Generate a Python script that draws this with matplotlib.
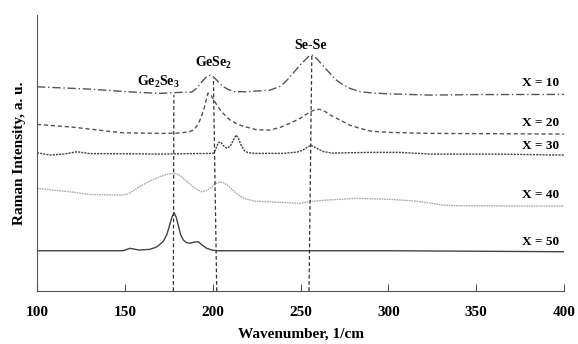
import matplotlib
matplotlib.use("Agg")
import matplotlib.pyplot as plt

plt.rcParams["mathtext.fontset"] = "custom"
plt.rcParams["mathtext.rm"] = "Liberation Serif:bold"
plt.rcParams["mathtext.it"] = "Liberation Serif:bold"
plt.rcParams["mathtext.bf"] = "Liberation Serif:bold"
plt.rcParams["mathtext.default"] = "rm"

# ---- data (intensity in arbitrary units) ----
x10 = [100, 130, 150, 170, 181, 188, 191, 193.8, 196, 198.5, 200, 202, 204, 206.1, 209, 212, 219,
       232.6, 238, 241, 244, 247, 250, 252.5, 254.5, 256.4, 258, 260, 262, 264.5, 266.8, 270,
       274, 278.2, 283.9, 292, 300, 323.7, 350, 400]
y10 = [204.3, 202, 199.5, 197.7, 198.7, 199, 203, 209.3, 213.5, 216, 215, 211.5, 207.5, 204.3, 201.5, 199.5, 199.3,
       201, 204.5, 208.5, 214.3, 220.5, 226.5, 231, 234.5, 236, 234.5, 231, 227, 222, 217.7, 211.5,
       206.5, 202.7, 199.3, 198, 197.3, 196, 196.5, 196.7]

x20 = [100, 120, 140, 149, 171.7, 180, 186, 189, 191, 193, 195, 197.3, 199, 201, 203, 205, 207.5,
       210, 214, 218, 225, 232.6, 238, 244, 250, 255.4, 258.5, 261.1, 264, 267, 272.5, 278,
       283.9, 290, 300, 323.7, 400]
y20 = [166.7, 164, 160, 158.3, 157.7, 158, 159, 161, 165, 172, 182, 198, 196, 190, 184.5, 179.5, 175,
       171, 167, 164.5, 161.3, 161, 163.5, 167.7, 173, 179.3, 181.5, 181.7, 179.5, 176, 171, 166,
       162.7, 160, 158.7, 157.7, 157]

x30 = [100, 107.4, 115, 122.8, 130, 150, 170, 190, 200.2, 201.5, 203.2, 204.6, 206, 208, 210, 211.5,
       213.3, 214.6, 216, 218, 220, 224, 240, 248, 251.4, 254, 256, 258, 260, 263, 268, 289.6,
       306.6, 323.7, 360, 400]
y30 = [138.3, 136, 137, 139.3, 137.5, 137.3, 137, 137.5, 137.7, 141, 148.5, 149, 145.5, 142.7, 145, 150,
       156, 153, 146.5, 140.5, 138.5, 137.7, 137.7, 139, 141, 144, 146, 144, 142, 139.5, 138, 138.7,
       138.7, 137, 137, 136]

x40 = [100, 120, 130, 149, 152, 155, 158, 162, 166, 170, 174, 177.6, 180, 182.5, 185, 188, 191,
       193.8, 196.5, 199.5, 202, 204.2, 206.5, 209, 212, 215, 219, 224, 235, 249.7, 255, 265,
       282, 301, 315, 323.7, 330, 340, 400]
y40 = [102.7, 99, 96.5, 96, 97.3, 100.5, 104, 108, 111.5, 114.5, 116.7, 117.7, 117, 114, 110, 105.5, 101.5,
       99.3, 100.5, 104, 107.5, 109.3, 108, 105, 100, 95.5, 92, 90, 89, 87.7, 89.5, 91,
       92.7, 91.7, 90, 88, 86, 85.3, 85]

x50 = [100, 149, 152.9, 158, 164.3, 168, 170.5, 172, 174, 175.5, 176.8, 178, 179.2, 180.5, 181.8,
       183.3, 185, 187.1, 189.5, 191.8, 194, 196.6, 199.5, 202.3, 220, 300, 400]
y50 = [40.3, 40.3, 42.7, 41, 41.7, 44, 47.5, 50, 57, 66, 74, 78.3, 74, 65, 56,
       51, 48.5, 47.7, 49, 49.3, 46, 42.7, 41, 40.3, 40.3, 40.3, 39.3]

series_labels = ["X = 10", "X = 20", "X = 30", "X = 40", "X = 50"]
label_y = [207.7, 168.3, 145, 96, 49.3]

peak_names = ["Ge$_2$Se$_3$", "GeSe$_2$", "Se-Se"]
peak_x_bottom = [177.6, 202.3, 254.8]
peak_x_top = [177.9, 200.4, 256.4]
peak_line_top = [196, 213, 236]
peak_text_x = [169.3, 200.5, 255.7]
peak_text_y = [209, 227.7, 246]

xticks = [100, 150, 200, 250, 300, 350, 400]

# ---- figure ----
serif = ["Liberation Serif", "DejaVu Serif"]
fig = plt.figure(figsize=(5.78, 3.44), dpi=100)
ax = fig.add_axes([0.064, 0.154, 0.912, 0.802])

ax.plot(x10, y10, color="#555555", lw=1.0, linestyle=(0, (6, 2, 1, 2)))
ax.plot(x20, y20, color="#555555", lw=1.0, linestyle=(0, (3, 2)))
ax.plot(x30, y30, color="#444444", lw=1.0, linestyle=(0, (1.5, 0.8)))
ax.plot(x40, y40, color="#aaaaaa", lw=1.0, linestyle=(0, (1.2, 0.6)))
ax.plot(x50, y50, color="#444444", lw=1.0, linestyle="-")

for xb, xt, yt in zip(peak_x_bottom, peak_x_top, peak_line_top):
    ax.plot([xb, xt], [0, yt], color="#333333", lw=0.9, linestyle=(0, (3, 2)))

for name, tx, ty in zip(peak_names, peak_text_x, peak_text_y):
    ax.text(tx, ty, name, ha="center", va="center", fontsize=10, fontweight="bold",
            family=serif)

for lab, ly in zip(series_labels, label_y):
    ax.text(397, ly, lab, ha="right", va="center", fontsize=9.5, fontweight="bold",
            family=serif)

ax.set_xlim(100, 400)
ax.set_ylim(0, 276)
ax.set_xticks(xticks)
ax.set_yticks([])
ax.tick_params(axis="x", direction="in", length=5, width=0.8, color="#555555", pad=11)
for lbl in ax.get_xticklabels():
    lbl.set_fontfamily(serif)
    lbl.set_fontweight("bold")
    lbl.set_fontsize(11)
ax.spines["top"].set_visible(False)
ax.spines["right"].set_visible(False)
ax.spines["left"].set_color("#555555")
ax.spines["bottom"].set_color("#555555")

ax.set_xlabel("Wavenumber, 1/cm", fontsize=11, fontweight="bold", family=serif, labelpad=6)
ax.set_ylabel("Raman Intensity, a. u.", fontsize=11, fontweight="bold", family=serif, labelpad=8)

fig.savefig("out.png", dpi=100)
